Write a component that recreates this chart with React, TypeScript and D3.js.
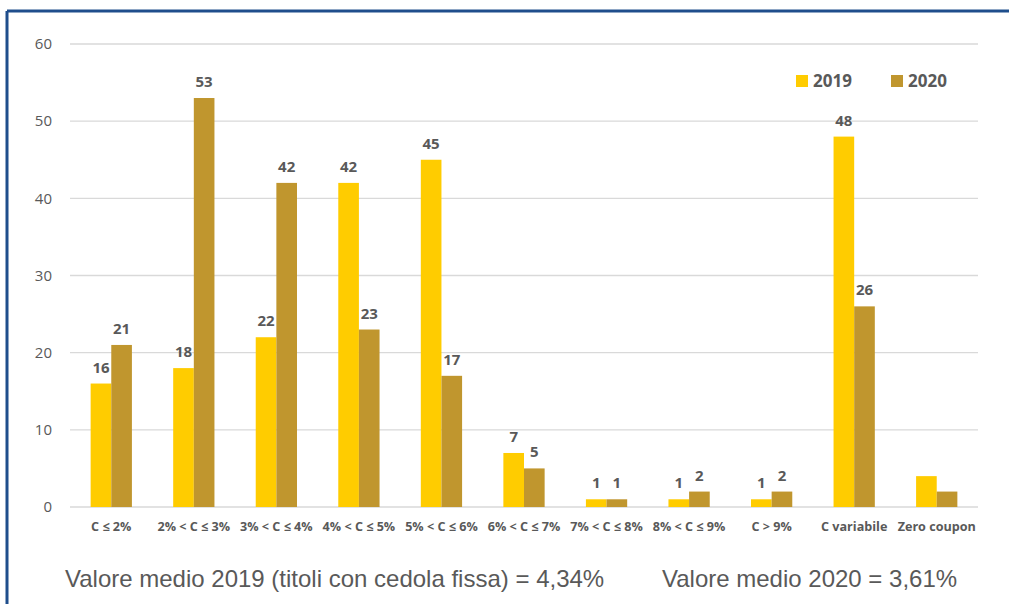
import React from 'react';
import * as d3 from 'd3';

const categories = [
  'C ≤ 2%', '2% < C ≤ 3%', '3% < C ≤ 4%', '4% < C ≤ 5%', '5% < C ≤ 6%',
  '6% < C ≤ 7%', '7% < C ≤ 8%', '8% < C ≤ 9%', 'C > 9%', 'C variabile', 'Zero coupon',
];
const values2019 = [16, 18, 22, 42, 45, 7, 1, 1, 1, 48, 4];
const values2020 = [21, 53, 42, 23, 17, 5, 1, 2, 2, 26, 2];
const showLabel = [true, true, true, true, true, true, true, true, true, true, false];
const yTicks = [0, 10, 20, 30, 40, 50, 60];
const seriesNames = ['2019', '2020'];
const colors = ['#FFCC00', '#C0962E'];

const W = 1009;
const H = 604;
const left = 70;
const right = 978;
const top = 44;
const bottom = 507;

export default function App() {
  const x = d3.scaleBand().domain(categories).range([left, right]).paddingInner(0.5).paddingOuter(0.25);
  const x1 = d3.scaleBand().domain(seriesNames).range([0, x.bandwidth()]);
  const y = d3.scaleLinear().domain([0, 60]).range([bottom, top]);
  const series = [values2019, values2020];
  const labelFont = "'Open Sans', sans-serif";

  return (
    <svg width={W} height={H} style={{ position: 'absolute', left: 0, top: 0 }}>
      <rect x={0} y={0} width={W} height={H} fill="#fff" />
      <line x1={7} x2={W} y1={11} y2={11} stroke="#1F4E8C" strokeWidth={3} />
      <line x1={7} x2={7} y1={11} y2={H} stroke="#1F4E8C" strokeWidth={3} />
      {yTicks.map(t => (
        <g key={t}>
          <line x1={left} x2={right} y1={y(t)} y2={y(t)} stroke="#D9D9D9" strokeWidth={1.3} />
          <text x={52} y={y(t)} dy="0.35em" textAnchor="end" fontFamily={labelFont} fontSize={15} fill="#595959">{t}</text>
        </g>
      ))}
      {series.map((vals, si) => (
        <g key={si}>
          {categories.map((c, i) => {
            const bx = (x(c) ?? 0) + (x1(seriesNames[si]) ?? 0);
            return (
              <g key={c}>
                <rect x={bx} y={y(vals[i])} width={x1.bandwidth()} height={y(0) - y(vals[i])} fill={colors[si]} />
                {showLabel[i] && (
                  <text x={bx + x1.bandwidth() / 2} y={y(vals[i]) - 11} textAnchor="middle" fontFamily={labelFont}
                    fontWeight="bold" fontSize={15} fill="#595959">{vals[i]}</text>
                )}
              </g>
            );
          })}
        </g>
      ))}
      {categories.map(c => (
        <text key={c} x={(x(c) ?? 0) + x.bandwidth() / 2} y={531} textAnchor="middle" fontFamily={labelFont}
          fontWeight="bold" fontSize={12.6} fill="#595959">{c}</text>
      ))}
      {seriesNames.map((s, i) => (
        <g key={s} transform={`translate(${796 + i * 95},75)`}>
          <rect x={0} y={0} width={12} height={12} fill={colors[i]} />
          <text x={17} y={6} dy="0.36em" fontFamily={labelFont} fontWeight="bold" fontSize={17} fill="#595959">{s}</text>
        </g>
      ))}
      <text x={65} y={587} fontFamily="'Liberation Sans', Arial, sans-serif" fontSize={24} fill="#595959">
        Valore medio 2019 (titoli con cedola fissa) = 4,34%
      </text>
      <text x={662} y={587} fontFamily="'Liberation Sans', Arial, sans-serif" fontSize={24} fill="#595959">
        Valore medio 2020 = 3,61%
      </text>
    </svg>
  );
}
